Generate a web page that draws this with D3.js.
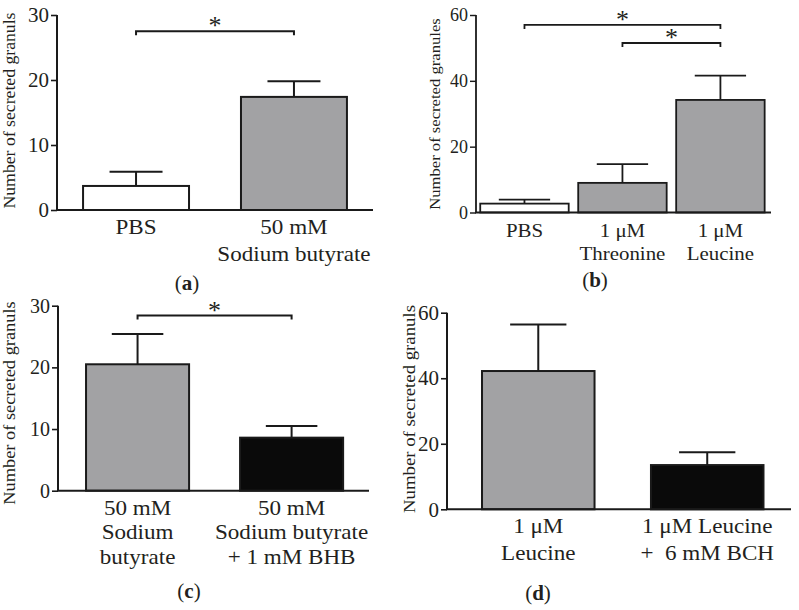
<!DOCTYPE html>
<html>
<head>
<meta charset="utf-8">
<script src="https://cdn.jsdelivr.net/npm/d3@7/dist/d3.min.js"></script>
<style>
  html, body { margin: 0; padding: 0; background: #fff; }
  svg { display: block; }
  text { font-family: 'Liberation Serif', 'Times New Roman', serif; fill: #231f20; }
</style>
</head>
<body>
<svg id="chart" width="799" height="610"></svg>
<script>
// ---------- DATA ----------
// Panel (a)
const aCategories = [["PBS"], ["50 mM", "Sodium butyrate"]];
const aMeans = [3.7, 17.4];
const aUpper = [5.9, 19.8];          // mean + error
const aTicks = [0, 10, 20, 30];
const aSig = [[0, 1, 27.5]];         // [from, to, bracket level]

// Panel (b)
const bCategories = [["PBS"], ["1 \u03bcM", "Threonine"], ["1 \u03bcM", "Leucine"]];
const bMeans = [2.7, 9.0, 34.2];
const bUpper = [3.9, 14.7, 41.6];
const bTicks = [0, 20, 40, 60];
const bSig = [[0, 2, 57], [1, 2, 51.5]];

// Panel (c)
const cCategories = [["50 mM", "Sodium", "butyrate"], ["50 mM", "Sodium butyrate", "+ 1 mM BHB"]];
const cMeans = [20.5, 8.6];
const cUpper = [25.4, 10.5];
const cTicks = [0, 10, 20, 30];
const cSig = [[0, 1, 28.4]];

// Panel (d)
const dCategories = [["1 \u03bcM", "Leucine"], ["1 \u03bcM Leucine", "+ \u00a06 mM BCH"]];
const dMeans = [42.2, 13.5];
const dUpper = [56.4, 17.4];
const dTicks = [0, 20, 40, 60];
const dSig = [];

const yTitles = ["Number of secreted granuls", "Number of secreted granules",
                 "Number of secreted granuls", "Number of secreted granuls"];
const panelLetters = ["a", "b", "c", "d"];

// ---------- STYLE / LAYOUT ----------
const WHITE = "#ffffff", GRAY = "#a2a2a4", BLACK = "#0a0a0a", INK = "#1a1a1a";

const panels = [
  { cats: aCategories, means: aMeans, upper: aUpper, ticks: aTicks, sig: aSig, title: yTitles[0], letter: panelLetters[0],
    x0: 57, x1: 373, yTop: 15, yBot: 210, pi: 0.329, po: 0.165, align: 0.5, fills: [WHITE, GRAY], cap: 0.5,
    tickFont: 21, catFont: 21, lineH: 27, titleX: 14.7, titleY: 110.5, titleFont: 16.4, letterX: 187, letterY: 290, sw: 2 },
  { cats: bCategories, means: bMeans, upper: bUpper, ticks: bTicks, sig: bSig, title: yTitles[1], letter: panelLetters[1],
    x0: 476, x1: 771, yTop: 15, yBot: 212.5, pi: 0.097, po: 0.054, align: 0.4, fills: [WHITE, GRAY, GRAY], cap: 0.58,
    tickFont: 18, catFont: 19, lineH: 23.5, titleX: 440, titleY: 114, titleFont: 15.4, letterX: 595, letterY: 287, sw: 1.8 },
  { cats: cCategories, means: cMeans, upper: cUpper, ticks: cTicks, sig: cSig, title: yTitles[2], letter: panelLetters[2],
    x0: 58, x1: 369, yTop: 305.7, yBot: 490.7, pi: 0.331, po: 0.175, align: 0.52, fills: [GRAY, BLACK], cap: 0.5,
    tickFont: 20, catFont: 21, lineH: 24.5, titleX: 14.7, titleY: 403, titleFont: 17, letterX: 189, letterY: 598, sw: 2 },
  { cats: dCategories, means: dMeans, upper: dUpper, ticks: dTicks, sig: dSig, title: yTitles[3], letter: panelLetters[3],
    x0: 447, x1: 791, yTop: 312.7, yBot: 509.3, pi: 0.334, po: 0.185, align: 0.56, fills: [GRAY, BLACK], cap: 0.5,
    tickFont: 21, catFont: 21, lineH: 27, titleX: 414.5, titleY: 409, titleFont: 17.4, letterX: 538, letterY: 600, sw: 2 }
];

const SX = 1.1;   // horizontal widening to mimic the wider Palatino-like face
const svg = d3.select("#chart");

function label(parent, x, y, s, size, opts = {}) {
  const sx = opts.sx || SX;
  let tr = `translate(${x},${y})`;
  if (opts.rotate) tr += ` rotate(${opts.rotate})`;
  tr += ` scale(${sx},1)`;
  return parent.append("text")
    .attr("transform", tr)
    .attr("text-anchor", opts.anchor || "middle")
    .style("font-size", size + "px")
    .style("white-space", "pre")
    .text(s);
}

function drawPanel(p) {
  const g = svg.append("g");
  const x = d3.scaleBand().domain(d3.range(p.means.length))
    .range([p.x0, p.x1]).paddingInner(p.pi).paddingOuter(p.po).align(p.align);
  const y = d3.scaleLinear().domain([0, p.ticks[p.ticks.length - 1]]).range([p.yBot, p.yTop]);
  const bw = x.bandwidth();
  const cx = i => x(i) + bw / 2;

  // error bars (upper only)
  g.selectAll("line.err").data(p.upper).join("line")
    .attr("x1", (d, i) => cx(i)).attr("x2", (d, i) => cx(i))
    .attr("y1", (d, i) => y(p.means[i])).attr("y2", d => y(d))
    .attr("stroke", INK).attr("stroke-width", p.sw);
  g.selectAll("line.cap").data(p.upper).join("line")
    .attr("x1", (d, i) => cx(i) - bw * p.cap / 2).attr("x2", (d, i) => cx(i) + bw * p.cap / 2)
    .attr("y1", d => y(d)).attr("y2", d => y(d))
    .attr("stroke", INK).attr("stroke-width", p.sw);

  // bars
  g.selectAll("rect.bar").data(p.means).join("rect")
    .attr("x", (d, i) => x(i)).attr("y", d => y(d))
    .attr("width", bw).attr("height", d => y(0) - y(d))
    .attr("fill", (d, i) => p.fills[i])
    .attr("stroke", INK).attr("stroke-width", p.sw);

  // y axis
  const ax = d3.axisLeft(y).tickValues(p.ticks).tickSize(6).tickPadding(2).tickFormat(d3.format("d"));
  const ag = g.append("g").attr("transform", `translate(${p.x0},0)`).call(ax);
  ag.select(".domain").remove();
  ag.selectAll(".tick line").attr("stroke", INK).attr("stroke-width", p.sw * 0.8);
  ag.selectAll(".tick text").style("font-size", p.tickFont + "px")
    .style("font-family", "'Liberation Serif', serif").attr("fill", "#231f20");

  g.append("line").attr("x1", p.x0).attr("x2", p.x0).attr("y1", y(0)).attr("y2", y(p.ticks[p.ticks.length - 1]))
    .attr("stroke", INK).attr("stroke-width", p.sw);
  // x axis line
  g.append("line").attr("x1", p.x0 - 1).attr("x2", p.x1).attr("y1", y(0)).attr("y2", y(0))
    .attr("stroke", INK).attr("stroke-width", p.sw);

  // category labels
  p.cats.forEach((lines, i) => {
    lines.forEach((ln, j) => {
      label(g, cx(i), y(0) + 24 + j * p.lineH, ln, p.catFont);
    });
  });

  // significance brackets
  p.sig.forEach(([a, b, lvl]) => {
    const yy = y(lvl);
    g.append("path")
      .attr("d", `M${cx(a)},${yy + 4}V${yy}H${cx(b)}V${yy + 4}`)
      .attr("fill", "none").attr("stroke", INK).attr("stroke-width", p.sw);
    label(g, (cx(a) + cx(b)) / 2, yy + 3, "*", 26, { sx: 1 });
  });

  // y title
  label(g, p.titleX, p.titleY, p.title, p.titleFont, { rotate: -90, sx: 1.08 });

  // panel letter
  const t = g.append("text").attr("x", p.letterX).attr("y", p.letterY)
    .attr("text-anchor", "middle").style("font-size", "21px");
  t.append("tspan").text("(");
  t.append("tspan").style("font-weight", "bold").text(p.letter);
  t.append("tspan").text(")");
}

panels.forEach(drawPanel);
</script>
</body>
</html>
